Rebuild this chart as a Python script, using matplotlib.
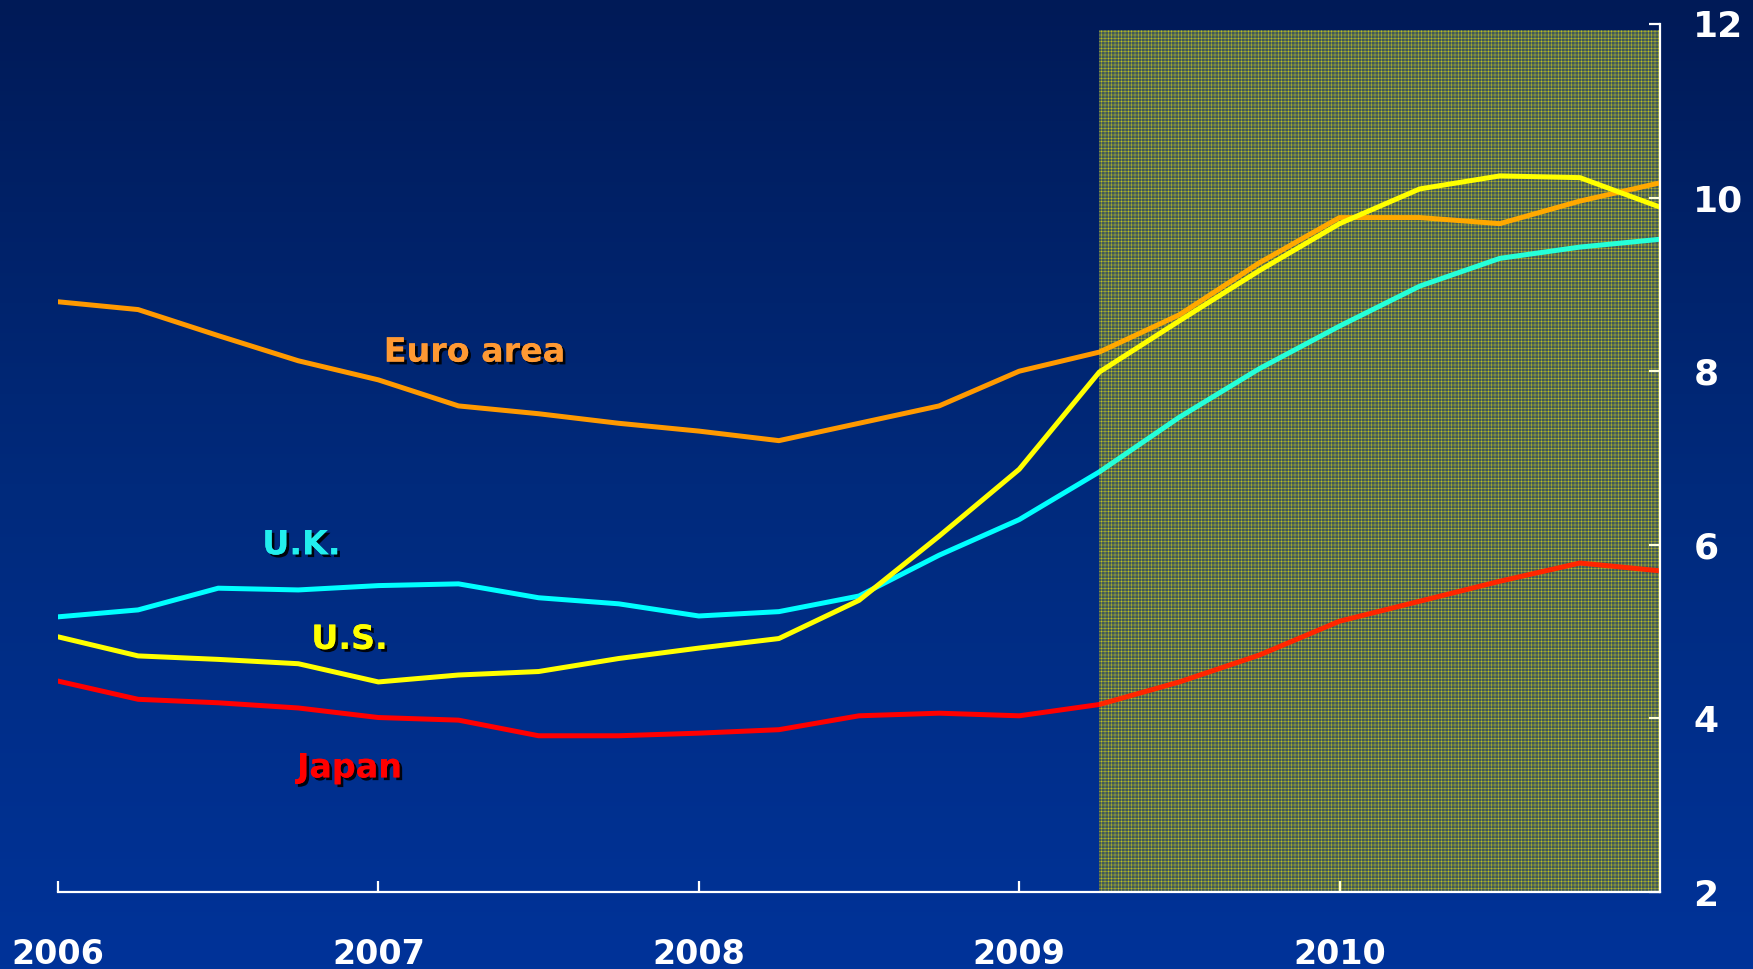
import matplotlib

matplotlib.use("Agg")
import matplotlib.patheffects as pe
import matplotlib.pyplot as plt
import numpy as np
from matplotlib.colors import LinearSegmentedColormap
from matplotlib.patches import Rectangle

# quarterly observations, 2006Q1 .. 2011Q1
quarters = [2006 + 0.25 * i for i in range(21)]
euro_area = [8.80, 8.71, 8.41, 8.12, 7.90, 7.60, 7.51, 7.40, 7.31, 7.20, 7.40,
             7.60, 8.00, 8.22, 8.65, 9.25, 9.77, 9.77, 9.70, 9.96, 10.17]
uk = [5.17, 5.25, 5.50, 5.48, 5.53, 5.55, 5.39, 5.32, 5.18, 5.23, 5.41,
      5.88, 6.29, 6.84, 7.47, 8.03, 8.52, 8.98, 9.30, 9.43, 9.52]
us = [4.94, 4.72, 4.68, 4.63, 4.42, 4.50, 4.54, 4.69, 4.81, 4.92, 5.36,
      6.10, 6.87, 7.99, 8.58, 9.16, 9.70, 10.10, 10.25, 10.23, 9.89]
japan = [4.43, 4.22, 4.18, 4.12, 4.01, 3.98, 3.80, 3.80, 3.83, 3.87, 4.03,
         4.06, 4.03, 4.16, 4.42, 4.73, 5.12, 5.35, 5.58, 5.79, 5.70]

year_ticks = [2006, 2007, 2008, 2009, 2010]
value_ticks = [2, 4, 6, 8, 10, 12]
forecast_start = 2009.25
forecast_top = 11.93

series = [
    ("Euro area", euro_area, "#ff9900", "#ff9933", (2007.30, 8.22)),
    ("U.K.", uk, "#00ffff", "#22eeee", (2006.76, 6.00)),
    ("U.S.", us, "#ffff00", "#ffff00", (2006.91, 4.91)),
    ("Japan", japan, "#ff0000", "#ff0000", (2006.91, 3.43)),
]

plt.rcParams["font.family"] = ["DejaVu Sans"]
plt.rcParams["hatch.linewidth"] = 0.35

fig = plt.figure(figsize=(17.53, 9.69), dpi=100)

# background gradient
bg = fig.add_axes([0, 0, 1, 1], zorder=-10)
grad = LinearSegmentedColormap.from_list("bg", ["#001a57", "#002a7c", "#003399"])
bg.imshow(np.linspace(0, 1, 256).reshape(-1, 1), aspect="auto", cmap=grad,
          extent=(0, 1, 0, 1))
bg.set_axis_off()

ax = fig.add_axes([58 / 1753, 77 / 969, (1660 - 58) / 1753, (892 - 24) / 969])
ax.patch.set_alpha(0)
ax.set_xlim(2006, 2011)
ax.set_ylim(2, 12)

ax.add_patch(Rectangle((forecast_start, 2), 2011 - forecast_start, forecast_top - 2,
                       facecolor="#1f3c6c", edgecolor="#b4b428", linewidth=0,
                       hatch="+++++", zorder=1))

for name, values, color, text_color, (tx, ty) in series:
    ax.plot(quarters, values, color=color, lw=3.6, solid_capstyle="round",
            solid_joinstyle="round", zorder=3)
    ax.text(tx, ty, name, color=text_color, fontsize=24, fontweight="bold",
            ha="center", va="center", zorder=6,
            path_effects=[pe.withSimplePatchShadow(offset=(2, -2), shadow_rgbFace="black", alpha=0.9),
                          pe.Normal()])

# light yellow veil over lines in the forecast period
ax.add_patch(Rectangle((forecast_start, 2), 2011 - forecast_start, forecast_top - 2,
                       facecolor="#ffff00", alpha=0.15, linewidth=0, zorder=4))

for side in ["top", "left"]:
    ax.spines[side].set_visible(False)
for side in ["bottom", "right"]:
    ax.spines[side].set_color("white")
    ax.spines[side].set_linewidth(1.6)
    ax.spines[side].set_zorder(5)

ax.set_xticks(year_ticks)
ax.set_xticklabels([str(y) for y in year_ticks])
ax.set_yticks(value_ticks)
ax.yaxis.tick_right()
ax.tick_params(axis="x", direction="in", length=8, width=1.6, color="white",
               labelcolor="white", labelsize=24, pad=33)
ax.tick_params(axis="y", direction="in", length=8, width=1.6, color="white",
               labelcolor="white", labelsize=26, pad=24, left=False, right=True)
for label in ax.get_xticklabels() + ax.get_yticklabels():
    label.set_fontweight("bold")

fig.savefig("out.png", dpi=100)
